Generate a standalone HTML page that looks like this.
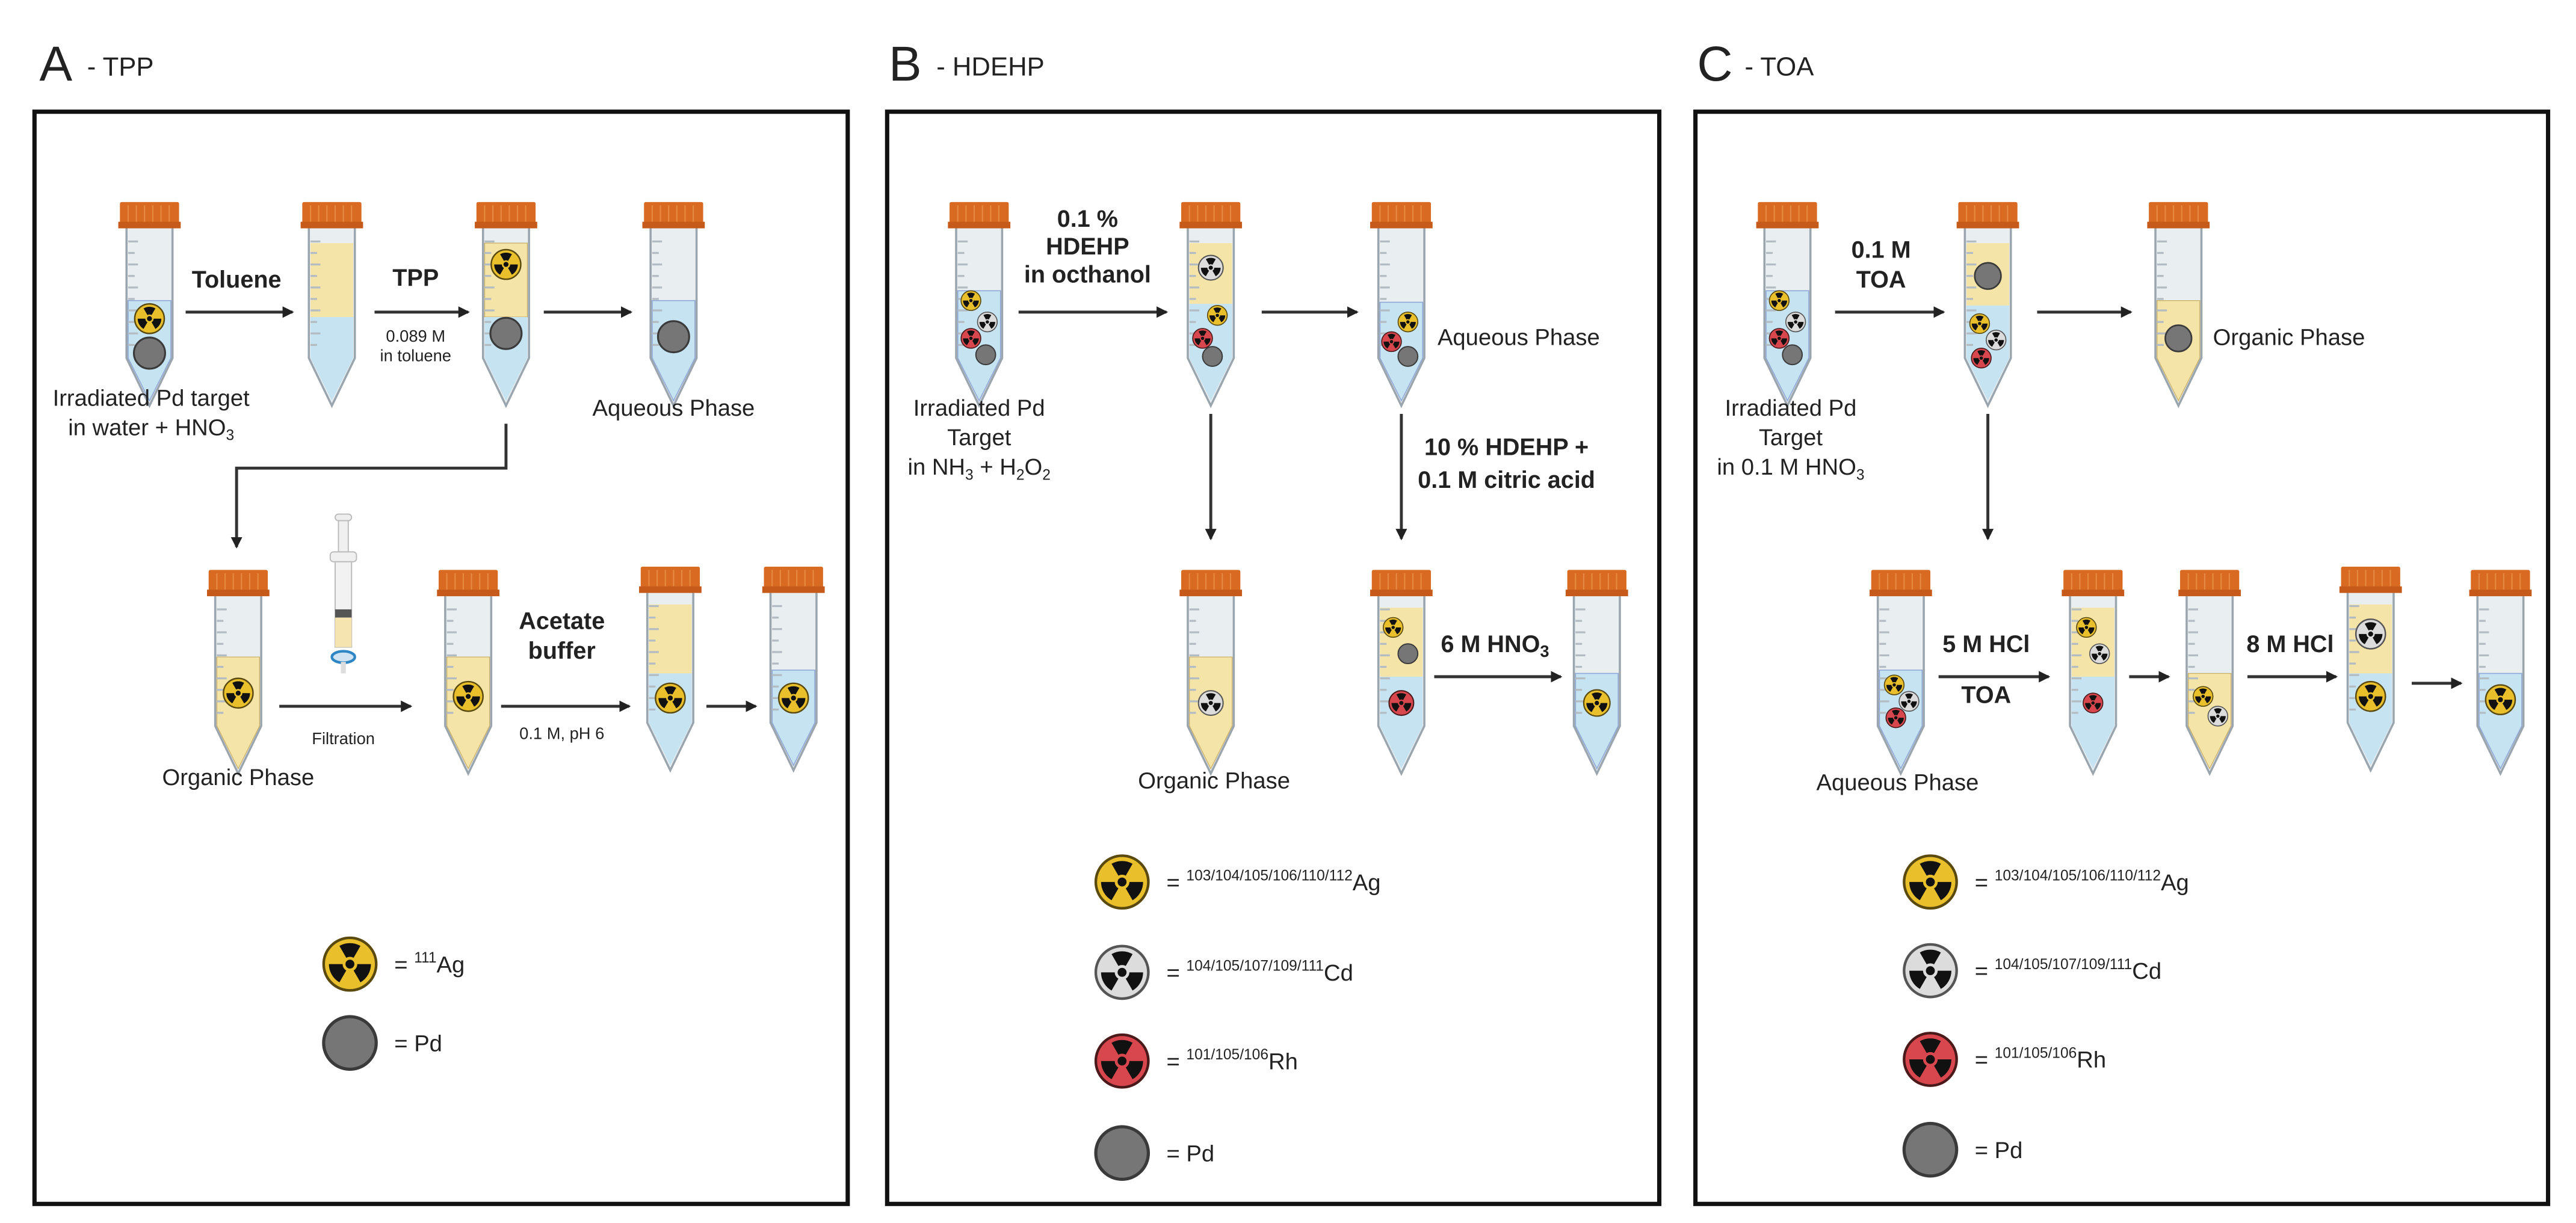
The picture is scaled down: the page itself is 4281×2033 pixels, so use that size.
<!DOCTYPE html>
<html><head><meta charset="utf-8"><style>
html,body{margin:0;padding:0;background:#fff;}
svg{display:block;}
text{font-family:"Liberation Sans",Arial,sans-serif;fill:#222;}
.b{font-weight:bold;font-size:14.5px;}
.n{font-size:14px;}
.s{font-size:10px;}
.t1{font-size:30px;}
.t2{font-size:16px;}
.ln{stroke:#333;stroke-width:1.8;fill:none;}
</style></head><body>
<svg width="4281" height="2033" viewBox="0 0 1568 744.6" xmlns="http://www.w3.org/2000/svg">
<defs>
<marker id="ah" markerWidth="8" markerHeight="8" refX="6" refY="4" orient="auto" markerUnits="userSpaceOnUse">
<path d="M0,0.5 L7,4 L0,7.5 Z" fill="#222"/></marker>
<path id="tb" d="M-14 16 V95 L0 124 L14 95 V16 Z" fill="#e9eef1"/>
<g id="tt">
<g stroke="#b4bcc3" stroke-width="1.2">
<line x1="-13" y1="24" x2="-7" y2="24"/><line x1="-13" y1="31" x2="-9" y2="31"/><line x1="-13" y1="38" x2="-7" y2="38"/><line x1="-13" y1="45" x2="-9" y2="45"/><line x1="-13" y1="52" x2="-7" y2="52"/><line x1="-13" y1="59" x2="-9" y2="59"/><line x1="-13" y1="66" x2="-7" y2="66"/><line x1="-13" y1="73" x2="-9" y2="73"/><line x1="-13" y1="80" x2="-7" y2="80"/><line x1="-13" y1="87" x2="-9" y2="87"/>
</g>
<path d="M-14 16 V95 L0 124 L14 95 V16" fill="none" stroke="#9aa5ae" stroke-width="1.3"/>
<rect x="-18" y="0" width="36" height="14" fill="#d86a22" rx="1"/>
<g stroke="#e58a40" stroke-width="0.8"><line x1="-13" y1="2" x2="-13" y2="12"/><line x1="-8" y1="2" x2="-8" y2="12"/><line x1="-3" y1="2" x2="-3" y2="12"/><line x1="2" y1="2" x2="2" y2="12"/><line x1="7" y1="2" x2="7" y2="12"/><line x1="12" y1="2" x2="12" y2="12"/></g>
<rect x="-19" y="12" width="38" height="4" fill="#c55a1a"/>
</g>
<g id="tre" fill="#111">
<path d="M-1.4 -2.42 L-4 -6.93 A8 8 0 0 1 4 -6.93 L1.4 -2.42 A2.8 2.8 0 0 0 -1.4 -2.42 Z"/>
<path transform="rotate(120)" d="M-1.4 -2.42 L-4 -6.93 A8 8 0 0 1 4 -6.93 L1.4 -2.42 A2.8 2.8 0 0 0 -1.4 -2.42 Z"/>
<path transform="rotate(240)" d="M-1.4 -2.42 L-4 -6.93 A8 8 0 0 1 4 -6.93 L1.4 -2.42 A2.8 2.8 0 0 0 -1.4 -2.42 Z"/>
<circle r="1.7"/>
</g>
<g id="ag"><circle r="10" fill="#e9c02c" stroke="#5a4a10" stroke-width="1"/><use href="#tre"/></g>
<g id="cd"><circle r="10" fill="#dcdcdc" stroke="#555" stroke-width="1"/><use href="#tre"/></g>
<g id="rh"><circle r="10" fill="#d9474e" stroke="#4a1a1a" stroke-width="1"/><use href="#tre"/></g>
<g id="pd"><circle r="10" fill="#767676" stroke="#3a3a3a" stroke-width="1.2"/></g>
<path id="bl60" d="M-13 60 H13 V95 L0 121 L-13 95 Z"/>
</defs>

<!-- Titles -->
<text x="24" y="49" class="t1">A</text><text x="53" y="46" class="t2">-  TPP</text>
<text x="541" y="49" class="t1">B</text><text x="570" y="46" class="t2">-  HDEHP</text>
<text x="1033" y="49" class="t1">C</text><text x="1062" y="46" class="t2">-  TOA</text>

<!-- Panels -->
<rect x="21" y="68" width="495" height="665" fill="none" stroke="#111" stroke-width="2.6"/>
<rect x="540" y="68" width="470" height="665" fill="none" stroke="#111" stroke-width="2.6"/>
<rect x="1032" y="68" width="519" height="665" fill="none" stroke="#111" stroke-width="2.6"/>

<!-- ===== Panel A ===== -->
<g transform="translate(91,123)"><use href="#tb"/><path d="M-13 60 H13 V95 L0 121 L-13 95 Z" fill="#c6e3f2" stroke="#8fa7d6" stroke-width=".6"/><use href="#tt"/>
<use href="#ag" transform="translate(0,71) scale(.9)"/><use href="#pd" transform="translate(0,92) scale(.95)"/></g>
<g transform="translate(202,123)"><use href="#tb"/><rect x="-13" y="25" width="26" height="45" fill="#f5e4a8"/><path d="M-13 70 H13 V95 L0 121 L-13 95 Z" fill="#c6e3f2"/><use href="#tt"/></g>
<g transform="translate(308,123)"><use href="#tb"/><rect x="-13" y="25" width="26" height="45" fill="#f5e4a8" stroke="#c9b16a" stroke-width=".5"/><path d="M-13 70 H13 V95 L0 121 L-13 95 Z" fill="#c6e3f2"/><use href="#tt"/>
<use href="#ag" transform="translate(0,38) scale(.9)"/><use href="#pd" transform="translate(0,80) scale(.95)"/></g>
<g transform="translate(410,123)"><use href="#tb"/><path d="M-13 60 H13 V95 L0 121 L-13 95 Z" fill="#c6e3f2" stroke="#8fa7d6" stroke-width=".6"/><use href="#tt"/>
<use href="#pd" transform="translate(0,82) scale(.95)"/></g>

<line x1="113" y1="190" x2="178" y2="190" class="ln" marker-end="url(#ah)"/>
<text x="144" y="175" class="b" text-anchor="middle">Toluene</text>
<line x1="228" y1="190" x2="285" y2="190" class="ln" marker-end="url(#ah)"/>
<text x="253" y="174" class="b" text-anchor="middle">TPP</text>
<text x="253" y="208" class="s" text-anchor="middle">0.089 M</text>
<text x="253" y="220" class="s" text-anchor="middle">in toluene</text>
<line x1="331" y1="190" x2="384" y2="190" class="ln" marker-end="url(#ah)"/>
<text x="92" y="247" class="n" text-anchor="middle">Irradiated Pd target</text>
<text x="92" y="265" class="n" text-anchor="middle">in water + HNO<tspan font-size="9" dy="3">3</tspan></text>
<text x="410" y="253" class="n" text-anchor="middle">Aqueous Phase</text>
<path d="M308 258 V285 H144 V333" class="ln" marker-end="url(#ah)"/>

<g transform="translate(145,347)"><use href="#tb"/><path d="M-13 53 H13 V95 L0 121 L-13 95 Z" fill="#f5e4a8" stroke="#c9b16a" stroke-width=".5"/><use href="#tt"/><use href="#ag" transform="translate(0,75) scale(.9)"/></g>
<!-- syringe -->
<g transform="translate(209,0)">
<rect x="-5" y="313" width="10" height="4" rx="2" fill="#eee" stroke="#bbb" stroke-width=".7"/>
<rect x="-3" y="317" width="6" height="20" fill="#f0f0f0" stroke="#bbb" stroke-width=".7"/>
<rect x="-8" y="336" width="16" height="6" rx="2" fill="#f0f0f0" stroke="#bbb" stroke-width=".7"/>
<rect x="-5" y="342" width="10" height="52" fill="#f2f2f2" stroke="#bbb" stroke-width=".7"/>
<rect x="-5" y="371" width="10" height="5" fill="#555"/>
<rect x="-5" y="376" width="10" height="18" fill="#f5e4b0"/>
<ellipse cx="0" cy="400" rx="7" ry="3.5" fill="#cfe3f3" stroke="#2f86c5" stroke-width="1.6"/>
<rect x="-1.5" y="403" width="3" height="7" fill="#ddd"/>
</g>
<line x1="170" y1="430" x2="250" y2="430" class="ln" marker-end="url(#ah)"/>
<text x="209" y="453" class="s" text-anchor="middle">Filtration</text>
<g transform="translate(285,347)"><use href="#tb"/><path d="M-13 53 H13 V95 L0 121 L-13 95 Z" fill="#f5e4a8" stroke="#c9b16a" stroke-width=".5"/><use href="#tt"/><use href="#ag" transform="translate(0,77) scale(.9)"/></g>
<line x1="305" y1="430" x2="383" y2="430" class="ln" marker-end="url(#ah)"/>
<text x="342" y="383" class="b" text-anchor="middle">Acetate</text>
<text x="342" y="401" class="b" text-anchor="middle">buffer</text>
<text x="342" y="450" class="s" text-anchor="middle">0.1 M, pH 6</text>
<g transform="translate(408,345)"><use href="#tb"/><rect x="-13" y="23" width="26" height="42" fill="#f5e4a8"/><path d="M-13 65 H13 V95 L0 121 L-13 95 Z" fill="#c6e3f2"/><use href="#tt"/><use href="#ag" transform="translate(0,80) scale(.9)"/></g>
<line x1="430" y1="430" x2="460" y2="430" class="ln" marker-end="url(#ah)"/>
<g transform="translate(483,345)"><use href="#tb"/><path d="M-13 63 H13 V95 L0 121 L-13 95 Z" fill="#c6e3f2" stroke="#8fa7d6" stroke-width=".6"/><use href="#tt"/><use href="#ag" transform="translate(0,80) scale(.9)"/></g>
<text x="145" y="478" class="n" text-anchor="middle">Organic Phase</text>

<use href="#ag" transform="translate(213,587) scale(1.6)"/>
<text x="240" y="592" class="n">=  <tspan font-size="9" dy="-6">111</tspan><tspan dy="6">Ag</tspan></text>
<use href="#pd" transform="translate(213,635) scale(1.6)"/>
<text x="240" y="640" class="n">=  Pd</text>

<!-- ===== Panel B ===== -->
<g transform="translate(596,123)"><use href="#tb"/><path d="M-13 54 H13 V95 L0 121 L-13 95 Z" fill="#c6e3f2" stroke="#8fa7d6" stroke-width=".6"/><use href="#tt"/>
<use href="#ag" transform="translate(-5,60) scale(.6)"/><use href="#cd" transform="translate(5,73) scale(.6)"/><use href="#rh" transform="translate(-5,83) scale(.6)"/><use href="#pd" transform="translate(4,93) scale(.6)"/></g>
<line x1="620" y1="190" x2="710" y2="190" class="ln" marker-end="url(#ah)"/>
<text x="662" y="138" class="b" text-anchor="middle">0.1 %</text>
<text x="662" y="155" class="b" text-anchor="middle">HDEHP</text>
<text x="662" y="172" class="b" text-anchor="middle">in octhanol</text>
<g transform="translate(737,123)"><use href="#tb"/><rect x="-13" y="25" width="26" height="37" fill="#f5e4a8"/><path d="M-13 62 H13 V95 L0 121 L-13 95 Z" fill="#c6e3f2"/><use href="#tt"/>
<use href="#cd" transform="translate(0,40) scale(.75)"/><use href="#ag" transform="translate(4,69) scale(.6)"/><use href="#rh" transform="translate(-5,83) scale(.6)"/><use href="#pd" transform="translate(1,94) scale(.6)"/></g>
<line x1="768" y1="190" x2="826" y2="190" class="ln" marker-end="url(#ah)"/>
<g transform="translate(853,123)"><use href="#tb"/><path d="M-13 61 H13 V95 L0 121 L-13 95 Z" fill="#c6e3f2" stroke="#8fa7d6" stroke-width=".6"/><use href="#tt"/>
<use href="#ag" transform="translate(4,73) scale(.6)"/><use href="#rh" transform="translate(-6,85) scale(.6)"/><use href="#pd" transform="translate(4,94) scale(.6)"/></g>
<text x="875" y="210" class="n">Aqueous Phase</text>
<text x="596" y="253" class="n" text-anchor="middle">Irradiated Pd</text>
<text x="596" y="271" class="n" text-anchor="middle">Target</text>
<text x="596" y="289" class="n" text-anchor="middle">in NH<tspan font-size="9" dy="3">3</tspan><tspan dy="-3"> + H</tspan><tspan font-size="9" dy="3">2</tspan><tspan dy="-3">O</tspan><tspan font-size="9" dy="3">2</tspan></text>
<line x1="737" y1="252" x2="737" y2="328" class="ln" marker-end="url(#ah)"/>
<line x1="853" y1="252" x2="853" y2="328" class="ln" marker-end="url(#ah)"/>
<text x="917" y="277" class="b" text-anchor="middle">10 % HDEHP +</text>
<text x="917" y="297" class="b" text-anchor="middle">0.1 M citric acid</text>

<g transform="translate(737,347)"><use href="#tb"/><path d="M-13 53 H13 V95 L0 121 L-13 95 Z" fill="#f5e4a8" stroke="#c9b16a" stroke-width=".5"/><use href="#tt"/><use href="#cd" transform="translate(0,81) scale(.75)"/></g>
<g transform="translate(853,347)"><use href="#tb"/><rect x="-13" y="23" width="26" height="42" fill="#f5e4a8"/><path d="M-13 65 H13 V95 L0 121 L-13 95 Z" fill="#c6e3f2"/><use href="#tt"/>
<use href="#ag" transform="translate(-5,35) scale(.6)"/><use href="#pd" transform="translate(4,51) scale(.6)"/><use href="#rh" transform="translate(0,81) scale(.75)"/></g>
<line x1="873" y1="412" x2="950" y2="412" class="ln" marker-end="url(#ah)"/>
<text x="910" y="397" class="b" text-anchor="middle">6 M HNO<tspan font-size="10" dy="3">3</tspan></text>
<g transform="translate(972,347)"><use href="#tb"/><path d="M-13 63 H13 V95 L0 121 L-13 95 Z" fill="#c6e3f2" stroke="#8fa7d6" stroke-width=".6"/><use href="#tt"/><use href="#ag" transform="translate(0,81) scale(.8)"/></g>
<text x="739" y="480" class="n" text-anchor="middle">Organic Phase</text>

<use href="#ag" transform="translate(683,537) scale(1.6)"/>
<text x="710" y="542" class="n">=  <tspan font-size="9" dy="-6">103/104/105/106/110/112</tspan><tspan dy="6">Ag</tspan></text>
<use href="#cd" transform="translate(683,592) scale(1.6)"/>
<text x="710" y="597" class="n">=  <tspan font-size="9" dy="-6">104/105/107/109/111</tspan><tspan dy="6">Cd</tspan></text>
<use href="#rh" transform="translate(683,646) scale(1.6)"/>
<text x="710" y="651" class="n">=  <tspan font-size="9" dy="-6">101/105/106</tspan><tspan dy="6">Rh</tspan></text>
<use href="#pd" transform="translate(683,702) scale(1.6)"/>
<text x="710" y="707" class="n">=  Pd</text>

<!-- ===== Panel C ===== -->
<g transform="translate(1088,123)"><use href="#tb"/><path d="M-13 54 H13 V95 L0 121 L-13 95 Z" fill="#c6e3f2" stroke="#8fa7d6" stroke-width=".6"/><use href="#tt"/>
<use href="#ag" transform="translate(-5,60) scale(.6)"/><use href="#cd" transform="translate(5,73) scale(.6)"/><use href="#rh" transform="translate(-5,83) scale(.6)"/><use href="#pd" transform="translate(3,93) scale(.6)"/></g>
<line x1="1117" y1="190" x2="1183" y2="190" class="ln" marker-end="url(#ah)"/>
<text x="1145" y="157" class="b" text-anchor="middle">0.1 M</text>
<text x="1145" y="175" class="b" text-anchor="middle">TOA</text>
<g transform="translate(1210,123)"><use href="#tb"/><rect x="-13" y="25" width="26" height="38" fill="#f5e4a8"/><path d="M-13 63 H13 V95 L0 121 L-13 95 Z" fill="#c6e3f2"/><use href="#tt"/>
<use href="#pd" transform="translate(0,45) scale(.8)"/><use href="#ag" transform="translate(-5,74) scale(.6)"/><use href="#cd" transform="translate(5,84) scale(.6)"/><use href="#rh" transform="translate(-4,95) scale(.6)"/></g>
<line x1="1240" y1="190" x2="1297" y2="190" class="ln" marker-end="url(#ah)"/>
<g transform="translate(1326,123)"><use href="#tb"/><path d="M-13 60 H13 V95 L0 121 L-13 95 Z" fill="#f5e4a8" stroke="#c9b16a" stroke-width=".5"/><use href="#tt"/><use href="#pd" transform="translate(0,83) scale(.8)"/></g>
<text x="1347" y="210" class="n">Organic Phase</text>
<text x="1090" y="253" class="n" text-anchor="middle">Irradiated Pd</text>
<text x="1090" y="271" class="n" text-anchor="middle">Target</text>
<text x="1090" y="289" class="n" text-anchor="middle">in 0.1 M HNO<tspan font-size="9" dy="3">3</tspan></text>
<line x1="1210" y1="252" x2="1210" y2="328" class="ln" marker-end="url(#ah)"/>

<g transform="translate(1157,347)"><use href="#tb"/><path d="M-13 61 H13 V95 L0 121 L-13 95 Z" fill="#c6e3f2" stroke="#8fa7d6" stroke-width=".6"/><use href="#tt"/>
<use href="#ag" transform="translate(-4,70) scale(.6)"/><use href="#cd" transform="translate(5,80) scale(.6)"/><use href="#rh" transform="translate(-3,90) scale(.6)"/></g>
<line x1="1180" y1="412" x2="1247" y2="412" class="ln" marker-end="url(#ah)"/>
<text x="1209" y="397" class="b" text-anchor="middle">5 M HCl</text>
<text x="1209" y="428" class="b" text-anchor="middle">TOA</text>
<g transform="translate(1274,347)"><use href="#tb"/><rect x="-13" y="23" width="26" height="42" fill="#f5e4a8"/><path d="M-13 65 H13 V95 L0 121 L-13 95 Z" fill="#c6e3f2"/><use href="#tt"/>
<use href="#ag" transform="translate(-4,35) scale(.6)"/><use href="#cd" transform="translate(4,51) scale(.6)"/><use href="#rh" transform="translate(0,81) scale(.6)"/></g>
<line x1="1296" y1="412" x2="1320" y2="412" class="ln" marker-end="url(#ah)"/>
<g transform="translate(1345,347)"><use href="#tb"/><path d="M-13 63 H13 V95 L0 121 L-13 95 Z" fill="#f5e4a8" stroke="#c9b16a" stroke-width=".5"/><use href="#tt"/>
<use href="#ag" transform="translate(-4,77) scale(.6)"/><use href="#cd" transform="translate(5,89) scale(.6)"/></g>
<line x1="1368" y1="412" x2="1422" y2="412" class="ln" marker-end="url(#ah)"/>
<text x="1394" y="397" class="b" text-anchor="middle">8 M HCl</text>
<g transform="translate(1443,345)"><use href="#tb"/><rect x="-13" y="23" width="26" height="42" fill="#f5e4a8"/><path d="M-13 65 H13 V95 L0 121 L-13 95 Z" fill="#c6e3f2"/><use href="#tt"/>
<use href="#cd" transform="translate(0,41) scale(.9)"/><use href="#ag" transform="translate(0,79) scale(.9)"/></g>
<line x1="1468" y1="416" x2="1498" y2="416" class="ln" marker-end="url(#ah)"/>
<g transform="translate(1522,347)"><use href="#tb"/><path d="M-13 63 H13 V95 L0 121 L-13 95 Z" fill="#c6e3f2" stroke="#8fa7d6" stroke-width=".6"/><use href="#tt"/><use href="#ag" transform="translate(0,79) scale(.9)"/></g>
<text x="1155" y="481" class="n" text-anchor="middle">Aqueous Phase</text>

<use href="#ag" transform="translate(1175,537) scale(1.6)"/>
<text x="1202" y="542" class="n">=  <tspan font-size="9" dy="-6">103/104/105/106/110/112</tspan><tspan dy="6">Ag</tspan></text>
<use href="#cd" transform="translate(1175,591) scale(1.6)"/>
<text x="1202" y="596" class="n">=  <tspan font-size="9" dy="-6">104/105/107/109/111</tspan><tspan dy="6">Cd</tspan></text>
<use href="#rh" transform="translate(1175,645) scale(1.6)"/>
<text x="1202" y="650" class="n">=  <tspan font-size="9" dy="-6">101/105/106</tspan><tspan dy="6">Rh</tspan></text>
<use href="#pd" transform="translate(1175,700) scale(1.6)"/>
<text x="1202" y="705" class="n">=  Pd</text>
</svg>
</body></html>
